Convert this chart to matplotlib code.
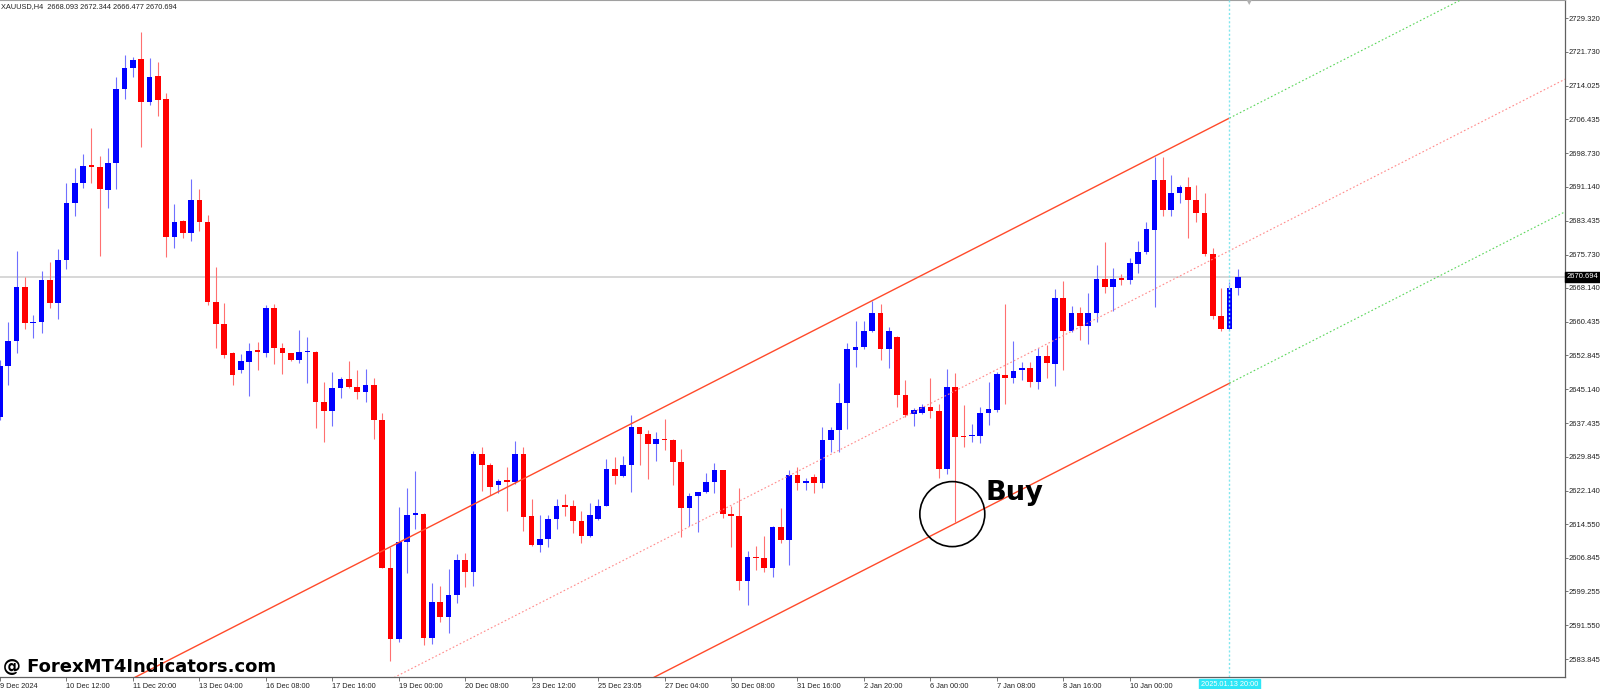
import numpy as np
import matplotlib
matplotlib.use("Agg")
import matplotlib.pyplot as plt
from matplotlib.patches import Ellipse

# XAUUSD H4 bars (bar index 0 = 9 Dec 2024)
opens = [2638.9, 2650.5, 2656.2, 2668.3, 2660.1, 2660.5, 2670.0, 2664.7, 2674.5, 2687.4,
         2691.9, 2695.9, 2695.7, 2690.4, 2696.4, 2713.2, 2718.0, 2720.1, 2710.4, 2716.3,
         2711.0, 2679.6, 2683.3, 2680.6, 2688.0, 2683.0, 2664.9, 2659.9, 2653.3, 2649.5,
         2651.4, 2653.9, 2653.4, 2663.7, 2654.4, 2653.3, 2651.8, 2653.6, 2653.7, 2642.3,
         2640.3, 2645.5, 2647.5, 2645.7, 2644.6, 2646.1, 2638.2, 2604.6, 2588.4, 2610.5,
         2616.7, 2616.8, 2588.6, 2596.9, 2593.5, 2598.4, 2606.4, 2603.7, 2630.5, 2628.0,
         2623.4, 2624.4, 2624.2, 2630.4, 2616.4, 2609.8, 2611.2, 2615.6, 2618.7, 2618.7,
         2615.2, 2611.8, 2615.6, 2618.7, 2627.0, 2625.5, 2627.9, 2636.5, 2635.0, 2632.7,
         2633.8, 2633.6, 2628.7, 2618.1, 2620.8, 2621.9, 2624.0, 2626.7, 2616.8, 2616.4,
         2601.6, 2607.1, 2606.8, 2604.6, 2613.8, 2610.9, 2625.7, 2623.9, 2625.2, 2623.8,
         2633.6, 2635.9, 2642.1, 2654.1, 2654.8, 2658.4, 2662.4, 2654.2, 2656.9, 2643.8,
         2639.5, 2639.7, 2641.2, 2640.2, 2627.0, 2645.7, 2634.5, 2634.5, 2634.6, 2639.7,
         2640.4, 2648.4, 2647.8, 2649.5, 2649.9, 2646.9, 2652.7, 2650.9, 2665.8, 2658.4,
         2662.5, 2659.4, 2662.5, 2670.1, 2668.3, 2670.1, 2670.0, 2673.6, 2676.2, 2681.3,
         2692.7, 2685.8, 2689.6, 2691.1, 2688.0, 2685.1, 2675.9, 2661.8, 2658.8, 2668.093]
highs = [2651.8, 2660.5, 2676.6, 2670.7, 2662.0, 2672.1, 2674.0, 2676.9, 2691.9, 2695.4,
         2698.5, 2704.4, 2698.1, 2699.9, 2716.0, 2721.0, 2720.5, 2726.2, 2720.4, 2719.4,
         2712.3, 2687.1, 2683.6, 2692.9, 2690.5, 2684.7, 2673.0, 2664.7, 2653.7, 2653.1,
         2655.6, 2655.9, 2664.3, 2664.4, 2655.7, 2653.4, 2658.6, 2657.1, 2653.8, 2646.9,
         2649.1, 2647.9, 2651.6, 2649.5, 2649.8, 2647.8, 2639.8, 2609.4, 2618.3, 2622.8,
         2626.6, 2617.0, 2601.1, 2600.5, 2604.3, 2607.7, 2607.9, 2631.2, 2632.0, 2628.5,
         2624.8, 2627.4, 2633.4, 2632.1, 2620.2, 2616.6, 2616.7, 2620.2, 2621.4, 2620.0,
         2617.4, 2619.4, 2620.2, 2629.3, 2629.8, 2630.0, 2639.3, 2636.6, 2635.9, 2635.5,
         2638.4, 2633.8, 2631.6, 2621.5, 2621.9, 2626.2, 2628.3, 2626.7, 2618.6, 2622.7,
         2608.5, 2609.6, 2611.8, 2614.2, 2618.1, 2626.8, 2627.6, 2624.9, 2625.8, 2636.6,
         2636.6, 2646.5, 2655.7, 2660.6, 2660.6, 2665.2, 2664.4, 2659.2, 2657.2, 2647.3,
         2640.8, 2641.8, 2647.6, 2641.8, 2649.7, 2648.9, 2641.6, 2637.3, 2641.2, 2646.9,
         2649.1, 2664.4, 2656.2, 2651.4, 2651.4, 2654.4, 2655.2, 2667.8, 2669.8, 2664.0,
         2663.9, 2666.9, 2673.4, 2678.5, 2672.6, 2671.3, 2674.9, 2678.8, 2683.2, 2697.8,
         2697.8, 2693.8, 2691.5, 2693.4, 2691.4, 2689.8, 2677.1, 2668.1, 2669.6, 2672.344]
lows = [2638.2, 2646.1, 2653.4, 2658.8, 2656.8, 2657.9, 2663.5, 2661.1, 2672.4, 2684.5,
        2690.9, 2692.0, 2675.5, 2686.4, 2690.6, 2711.0, 2716.1, 2700.2, 2709.7, 2707.2,
        2675.1, 2677.1, 2679.4, 2678.8, 2681.1, 2664.3, 2654.6, 2652.2, 2646.1, 2648.9,
        2643.6, 2649.5, 2652.4, 2650.8, 2648.6, 2651.6, 2651.0, 2646.5, 2636.3, 2633.2,
        2636.8, 2643.1, 2645.4, 2642.9, 2642.2, 2633.8, 2604.5, 2583.5, 2587.8, 2603.4,
        2613.4, 2587.1, 2587.3, 2592.4, 2589.8, 2596.6, 2600.2, 2600.5, 2622.1, 2621.1,
        2621.5, 2617.6, 2623.6, 2613.0, 2609.6, 2608.1, 2609.3, 2613.4, 2616.4, 2612.6,
        2610.2, 2611.7, 2615.4, 2618.6, 2623.6, 2625.3, 2621.9, 2628.0, 2624.7, 2628.9,
        2631.4, 2623.4, 2611.7, 2614.0, 2612.8, 2621.7, 2621.7, 2615.9, 2609.3, 2599.6,
        2596.2, 2604.0, 2603.7, 2602.6, 2610.3, 2605.3, 2622.3, 2622.3, 2621.7, 2622.8,
        2631.0, 2631.0, 2636.1, 2650.1, 2654.2, 2658.2, 2651.8, 2649.9, 2641.1, 2638.9,
        2636.8, 2639.6, 2638.6, 2624.9, 2625.9, 2614.9, 2632.0, 2633.2, 2633.0, 2637.0,
        2640.0, 2641.8, 2646.5, 2647.3, 2645.7, 2645.1, 2647.6, 2645.9, 2649.5, 2658.2,
        2656.3, 2655.4, 2660.5, 2667.1, 2662.8, 2668.8, 2669.0, 2671.6, 2675.8, 2663.9,
        2684.5, 2684.5, 2687.5, 2679.4, 2683.2, 2675.4, 2661.0, 2658.4, 2658.6, 2666.477]
closes = [2650.5, 2656.2, 2668.4, 2660.2, 2660.5, 2670.0, 2664.7, 2674.5, 2687.5, 2692.0,
          2695.9, 2695.7, 2690.6, 2696.4, 2713.2, 2718.0, 2719.9, 2710.4, 2716.1, 2710.8,
          2679.8, 2683.2, 2680.6, 2688.1, 2683.2, 2664.9, 2659.9, 2652.9, 2648.4, 2651.6,
          2653.9, 2653.7, 2663.7, 2654.6, 2653.3, 2651.8, 2653.7, 2653.8, 2642.3, 2640.3,
          2645.5, 2647.5, 2645.7, 2644.6, 2646.1, 2638.2, 2604.6, 2588.4, 2610.5, 2616.6,
          2616.9, 2588.6, 2596.9, 2593.5, 2598.4, 2606.4, 2603.7, 2630.5, 2628.0, 2622.9,
          2624.4, 2624.2, 2630.4, 2616.2, 2609.8, 2611.2, 2615.6, 2618.7, 2618.5, 2615.2,
          2611.8, 2616.7, 2618.7, 2627.0, 2625.5, 2627.9, 2636.5, 2635.0, 2632.7, 2633.8,
          2633.6, 2628.7, 2618.1, 2620.8, 2621.8, 2624.0, 2626.7, 2616.8, 2616.4, 2601.6,
          2607.1, 2606.8, 2604.6, 2613.8, 2610.9, 2625.7, 2623.9, 2624.4, 2623.8, 2633.6,
          2635.9, 2642.1, 2654.2, 2654.8, 2658.4, 2662.4, 2654.2, 2658.4, 2643.8, 2639.3,
          2640.4, 2641.2, 2640.2, 2627.0, 2645.7, 2634.4, 2634.3, 2634.8, 2639.7, 2640.6,
          2648.5, 2647.8, 2649.4, 2649.9, 2646.9, 2652.7, 2651.0, 2665.8, 2658.4, 2662.5,
          2659.4, 2662.5, 2670.2, 2668.3, 2670.1, 2670.0, 2673.7, 2676.2, 2681.5, 2692.7,
          2685.8, 2689.6, 2691.1, 2688.0, 2685.1, 2675.9, 2661.8, 2658.8, 2668.1, 2670.694]

date_ticks = [0, 8, 16, 24, 32, 40, 48, 56, 64, 72, 80, 88, 96, 104, 112, 120, 128, 136]
date_labels = ["9 Dec 2024", "10 Dec 12:00", "11 Dec 20:00", "13 Dec 04:00", "16 Dec 08:00",
               "17 Dec 16:00", "19 Dec 00:00", "20 Dec 08:00", "23 Dec 12:00", "25 Dec 23:05",
               "27 Dec 04:00", "30 Dec 08:00", "31 Dec 16:00", "2 Jan 20:00", "6 Jan 00:00",
               "7 Jan 08:00", "8 Jan 16:00", "10 Jan 00:00"]
price_labels = ["2729.320", "2721.730", "2714.025", "2706.435", "2698.730", "2691.140",
                "2683.435", "2675.730", "2668.140", "2660.435", "2652.845", "2645.140",
                "2637.435", "2629.845", "2622.140", "2614.550", "2606.845", "2599.255",
                "2591.550", "2583.845"]

# regression channel: end bar, upper / lower values at the end bar, slope per bar
chan_end = 148
chan_upper = 2706.7
chan_lower = 2646.5
chan_slope = 0.9636
cursor_label = "2025.01.13 20:00"
last_price = 2670.694

W, H = 1600, 689
fig = plt.figure(figsize=(W / 100, H / 100), dpi=100)
ax = fig.add_axes([0, 12 / H, 1565 / W, 677 / H])
ax.set_xlim(0, 1565 / 8.307)
ax.set_ylim(2579.82, 2733.51)

n = len(opens)
x = np.arange(n)
o = np.array(opens)
c = np.array(closes)
up = c >= o

# current price line
ax.axhline(last_price, color="#d4d4d4", lw=1.3, zorder=1)

# wicks
ax.vlines(x[up], np.array(lows)[up], np.array(highs)[up], color="#7070ff", lw=0.8, zorder=2)
ax.vlines(x[~up], np.array(lows)[~up], np.array(highs)[~up], color="#ff7070", lw=0.8, zorder=2)
# bodies
body_h = np.maximum(np.abs(c - o), 0.3)
body_b = np.minimum(o, c)
ax.bar(x[up], body_h[up], bottom=body_b[up], width=0.68, color="#0000ff", lw=0, zorder=3)
ax.bar(x[~up], body_h[~up], bottom=body_b[~up], width=0.68, color="#ff0000", lw=0, zorder=3)

# channel
xs = np.array([0, chan_end])
xe = np.array([chan_end, 200])
red_line = "#ff4a2a"
for base in (chan_upper, chan_lower):
    ax.plot(xs, base - chan_slope * (chan_end - xs), color=red_line, lw=1.0, zorder=4)
    ax.plot(xe, base - chan_slope * (chan_end - xe), color="#5ad65a", lw=0.8,
            ls=(0, (1.5, 2)), zorder=4)
mid = (chan_upper + chan_lower) / 2
xm = np.array([0, 200])
ax.plot(xm, mid - chan_slope * (chan_end - xm), color="#ff8a8a", lw=0.8,
        ls=(0, (1.5, 2)), zorder=4)

# cursor line
ax.axvline(chan_end, color="#80e6ee", lw=1.0, ls=(0, (1.5, 1.5)), zorder=5)

# buy annotation
ax.add_patch(Ellipse((114.64, 2616.8), 7.82, 14.76, fill=False, ec="black", lw=1.2, zorder=6))
ax.text(118.6, 2620.0, "Buy", fontsize=19.6, fontweight="bold", family="DejaVu Sans",
        ha="left", va="baseline", color="black", zorder=7)

# axes styling
ax.spines["left"].set_visible(False)
ax.spines["top"].set_color("#a0a0a0")
ax.spines["top"].set_linewidth(0.8)
for s in ("bottom", "right"):
    ax.spines[s].set_color("#606060")
    ax.spines[s].set_linewidth(0.9)

ax.set_xticks(date_ticks)
ax.set_xticklabels(date_labels)
ax.tick_params(axis="x", length=3, width=0.6, color="#606060", pad=1.5,
               labelsize=5.3, labelcolor="#222222")
for lbl in ax.get_xticklabels():
    lbl.set_horizontalalignment("left")
    lbl.set_family("Liberation Sans")

ax.yaxis.tick_right()
ax.set_yticks([float(p) for p in price_labels])
ax.set_yticklabels(price_labels)
ax.tick_params(axis="y", length=2, width=0.6, color="#606060", pad=0.6,
               labelsize=5.5, labelcolor="#222222")
for lbl in ax.get_yticklabels():
    lbl.set_family("Liberation Sans")

# current price tag on the axis
ax.text(1.0008, last_price, f"{last_price:.3f}", transform=ax.get_yaxis_transform(),
        ha="left", va="center", fontsize=5.5, color="white", family="Liberation Sans",
        bbox=dict(boxstyle="square,pad=0.2", fc="black", ec="black"), clip_on=False)

# cursor time tag
ax.text(chan_end, -0.006, cursor_label, transform=ax.get_xaxis_transform(),
        ha="center", va="top", fontsize=5.3, color="white", family="Liberation Sans",
        bbox=dict(boxstyle="square,pad=0.25", fc="#2ee6f6", ec="#2ee6f6"), clip_on=False,
        zorder=8)

# header and watermark
fig.text(1 / W, 1 - 6.5 / H, "XAUUSD,H4  2668.093 2672.344 2666.477 2670.694",
         fontsize=5.3, family="Liberation Sans", color="#222222", va="center", ha="left")
fig.text(3 / W, 1 - 672 / H, "@ ForexMT4Indicators.com", fontsize=13, fontweight="bold",
         family="DejaVu Sans", color="black", va="baseline", ha="left")

# small shift marker at the top
fig.text(1249 / W, 1 - 2 / H, "\u25bc", fontsize=6, color="#b0b0b0", ha="center", va="center")

fig.savefig("out.png", dpi=100)
